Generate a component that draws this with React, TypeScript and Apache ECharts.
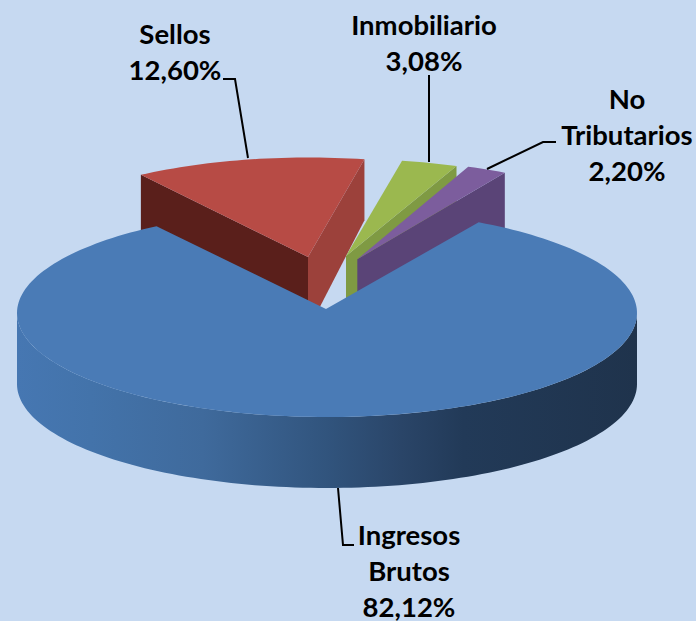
import React, { useEffect, useRef } from "react";
import * as echarts from "echarts";

const categories = ["Ingresos Brutos", "Sellos", "Inmobiliario", "No Tributarios"];
const values = [82.12, 12.6, 3.08, 2.2];
const labelLines = [["Ingresos", "Brutos"], ["Sellos"], ["Inmobiliario"], ["No", "Tributarios"]];

const START_ANGLE = 30;
const FONT = "Lato, 'Open Sans', sans-serif";

// Per-slice drawing layout (exploded pie with perspective)
const sliceLayouts = [
  { cx: 327, cy: 313, a: 310, b: 104, ax: 326, ay: 309, rim: 71, startTrim: -0.7, endTrim: 1,
    top: "#4a7bb6", startWall: null, endWall: null, nearDepth: 0, farDepth: 0 },
  { cx: 308, cy: 257, a: 296, b: 99.5, ax: 308, ay: 257, rim: 0, startTrim: 0, endTrim: 0,
    top: "#b74b45", startWall: "#5a1f1b", endWall: "#9c413b", nearDepth: 73, farDepth: 61 },
  { cx: 346, cy: 256, a: 294, b: 97, ax: 346, ay: 256, rim: 0, startTrim: 0, endTrim: 0,
    top: "#9bb84f", startWall: null, endWall: "#7f9a43", nearDepth: 60, farDepth: 60 },
  { cx: 357.3, cy: 259.3, a: 295, b: 100, ax: 357.3, ay: 259.3, rim: 0, startTrim: 0, endTrim: 0,
    top: "#7c5d9d", startWall: null, endWall: "#5a4477", nearDepth: 60, farDepth: 60 },
];
const drawOrder = [1, 2, 3, 0];

const LINE_STEP = 36;
const labelPlaces = [
  { x: 409, y: 534 },
  { x: 175, y: 33 },
  { x: 424, y: 24 },
  { x: 627, y: 98 },
];
const leaders = [
  [[338, 488], [343, 545], [354, 545]],
  [[223, 79], [235, 79], [248, 158]],
  [[429, 75], [429, 162]],
  [[556, 142], [543, 142], [487, 169]],
];

const total = values.reduce((s, v) => s + v, 0);
const angleRanges = (() => {
  let cur = START_ANGLE;
  return values.map((v) => {
    const from = cur;
    cur += (v / total) * 360;
    return [from, cur];
  });
})();

const rad = (d: number) => (d * Math.PI) / 180;
const pt = (l: any, deg: number, dy = 0): [number, number] => [
  l.cx + l.a * Math.sin(rad(deg)),
  l.cy - l.b * Math.cos(rad(deg)) + dy,
];
const arcPts = (l: any, from: number, to: number, dy = 0) => {
  const pts: [number, number][] = [];
  const n = Math.max(2, Math.ceil((to - from) / 1.5));
  for (let i = 0; i <= n; i++) pts.push(pt(l, from + ((to - from) * i) / n, dy));
  return pts;
};

function renderSlice(_params: any, api: any) {
  const i = api.value(1) as number;
  const l = sliceLayouts[i];
  const from = angleRanges[i][0] + l.startTrim;
  const to = angleRanges[i][1] + l.endTrim;
  const children: any[] = [];
  const wall = (deg: number, color: string) => {
    const c = pt(l, deg);
    children.push({
      type: "polygon",
      shape: { points: [[l.ax, l.ay], c, [c[0], c[1] + l.farDepth], [l.ax, l.ay + l.nearDepth]] },
      style: { fill: color },
    });
  };
  if (l.startWall) wall(from, l.startWall);
  if (l.endWall) wall(to, l.endWall);
  if (l.rim > 0) {
    const f = Math.max(from, 90);
    const t = Math.min(to, 270);
    const upper = arcPts(l, f, t);
    const lower = arcPts(l, f, t, l.rim).reverse();
    children.push({
      type: "polygon",
      shape: { points: [...upper, ...lower] },
      style: {
        fill: new echarts.graphic.LinearGradient(0, 0, 1, 0, [
          { offset: 0, color: "#4677b2" },
          { offset: 0.12, color: "#4373aa" },
          { offset: 0.3, color: "#3f6a9c" },
          { offset: 0.5, color: "#31547d" },
          { offset: 0.62, color: "#2a4568" },
          { offset: 0.72, color: "#223a58" },
          { offset: 1, color: "#1f334c" },
        ]),
      },
    });
  }
  children.push({
    type: "polygon",
    shape: { points: [[l.ax, l.ay], ...arcPts(l, from, to)] },
    style: { fill: l.top },
  });
  return { type: "group", children };
}

const pctText = (v: number) => v.toFixed(2).replace(".", ",") + "%";

export default function App() {
  const ref = useRef<HTMLDivElement>(null);
  useEffect(() => {
    const chart = echarts.init(ref.current!, undefined, { renderer: "svg" });
    chart.setOption({
      animation: false,
      backgroundColor: "#c6d9f1",
      series: [
        {
          type: "custom",
          coordinateSystem: "none",
          silent: true,
          renderItem: renderSlice,
          data: drawOrder.map((i) => ({ name: categories[i], value: [values[i], i] })),
          encode: { value: 0 },
        },
      ],
      graphic: [
        ...leaders.map((points) => ({
          type: "polyline",
          z: 20,
          shape: { points },
          style: { stroke: "#000", lineWidth: 2, fill: "none" },
        })),
        ...labelPlaces.flatMap((p, i) =>
          [...labelLines[i], pctText(values[i])].map((text, k) => ({
            type: "text",
            z: 21,
            x: p.x,
            y: p.y + k * LINE_STEP,
            style: {
              text,
              font: `700 27.5px ${FONT}`,
              fill: "#000",
              textAlign: "center",
              textVerticalAlign: "middle",
            },
          }))
        ),
      ],
    });
    return () => chart.dispose();
  }, []);
  return <div ref={ref} style={{ position: "absolute", left: 0, top: 0, width: 696, height: 621 }} />;
}
